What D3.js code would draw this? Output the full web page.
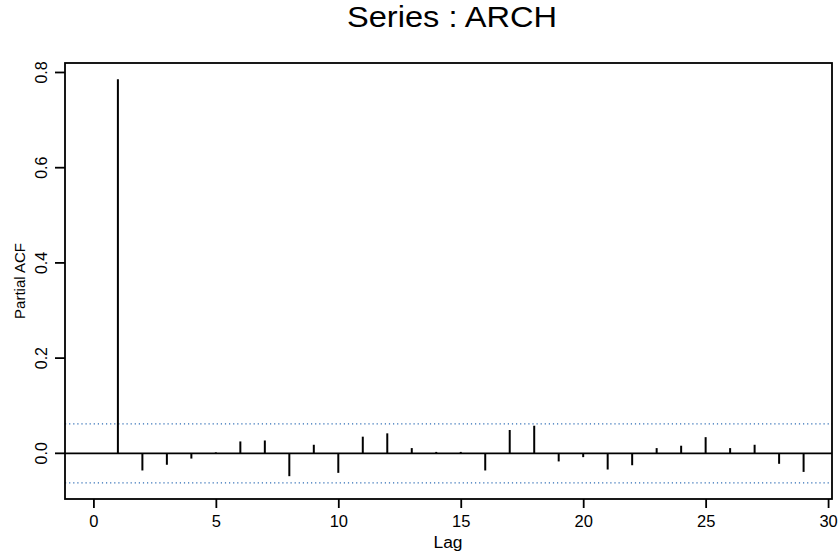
<!DOCTYPE html>
<html lang="en">
<head>
    <meta charset="UTF-8">
    <title>Series : ARCH</title>
    <style>
        body { margin: 0; background: #fff; }
        text { font-family: "Liberation Sans", Arial, sans-serif; fill: #000; }
    </style>
</head>
<body>
<script src="https://cdn.jsdelivr.net/npm/d3@7"></script>
<script>
    // partial autocorrelations, lags 1..29
    var lags = [1,2,3,4,5,6,7,8,9,10,11,12,13,14,15,16,17,18,19,20,21,22,23,24,25,26,27,28,29];
    var pacfValues = [0.786, -0.036, -0.024, -0.011, 0.002, 0.025, 0.027, -0.048, 0.018, -0.041,
        0.035, 0.042, 0.011, 0.003, 0.003, -0.036, 0.049, 0.058, -0.017, -0.008,
        -0.034, -0.025, 0.011, 0.016, 0.034, 0.011, 0.018, -0.022, -0.039];
    var ci = 0.062;   // +/- confidence band
    var xTicks = [0, 5, 10, 15, 20, 25, 30];
    var yTicks = [0.0, 0.2, 0.4, 0.6, 0.8];

    var width = 840,
        height = 558;
    // plot box (note: "top" is a reserved window property, so use a prefix)
    var boxL = 65, boxR = 832, boxT = 63, boxB = 499;

    var svg = d3.select("body")
        .append("svg")
        .attr("width", width)
        .attr("height", height);

    // R style limits: data range widened by 4% on each side
    var xmin = 0, xmax = d3.max(lags);
    var ymin = Math.min(d3.min(pacfValues), -ci), ymax = Math.max(d3.max(pacfValues), ci);
    var xpad = (xmax - xmin) * 0.04, ypad = (ymax - ymin) * 0.04;

    var x = d3.scaleLinear().domain([xmin - xpad, xmax + xpad]).range([boxL, boxR]);
    var y = d3.scaleLinear().domain([ymin - ypad, ymax + ypad]).range([boxB, boxT]);

    // confidence band
    svg.selectAll("line.ci").data([ci, -ci])
        .enter().append("line")
        .attr("class", "ci")
        .attr("x1", boxL).attr("x2", boxR)
        .attr("y1", function(d){ return y(d); }).attr("y2", function(d){ return y(d); })
        .attr("stroke", "#2f6db5").attr("stroke-width", 1.2)
        .attr("stroke-dasharray", "1.2,2.9");

    // zero line
    svg.append("line")
        .attr("x1", boxL).attr("x2", boxR)
        .attr("y1", y(0)).attr("y2", y(0))
        .attr("stroke", "#000").attr("stroke-width", 1.8);

    // spikes
    svg.selectAll("line.spike").data(lags)
        .enter().append("line")
        .attr("class", "spike")
        .attr("x1", function(d){ return x(d); }).attr("x2", function(d){ return x(d); })
        .attr("y1", y(0))
        .attr("y2", function(d, i){ return y(pacfValues[i]); })
        .attr("stroke", "#000").attr("stroke-width", 2);

    // axes
    var xAxis = svg.append("g")
        .attr("transform", "translate(0," + boxB + ")")
        .call(d3.axisBottom(x).tickValues(xTicks).tickSize(9).tickPadding(7).tickFormat(d3.format("d")));
    xAxis.select(".domain").remove();
    xAxis.selectAll("line").attr("stroke", "#000").attr("stroke-width", 1.8);
    xAxis.selectAll("text").style("font-size", "16.5px").style("font-family", "Liberation Sans, Arial, sans-serif");

    var yAxis = svg.append("g")
        .attr("transform", "translate(" + boxL + ",0)")
        .call(d3.axisLeft(y).tickValues(yTicks).tickSize(10).tickFormat(d3.format(".1f")));
    yAxis.select(".domain").remove();
    yAxis.selectAll(".tick").attr("transform", null);
    yAxis.selectAll(".tick line")
        .attr("y1", function(d){ return y(d); }).attr("y2", function(d){ return y(d); })
        .attr("stroke", "#000").attr("stroke-width", 1.8);
    yAxis.selectAll(".tick text")
        .attr("x", null).attr("y", null).attr("dy", null)
        .attr("text-anchor", "middle")
        .attr("transform", function(d){ return "translate(-18.5," + y(d) + ") rotate(-90)"; })
        .style("font-size", "16px").style("font-family", "Liberation Sans, Arial, sans-serif");

    // frame
    svg.append("rect")
        .attr("x", boxL).attr("y", boxT)
        .attr("width", boxR - boxL).attr("height", boxB - boxT)
        .attr("fill", "none").attr("stroke", "#000").attr("stroke-width", 1.8);

    // titles
    svg.append("text")
        .attr("x", 452).attr("y", 27)
        .attr("text-anchor", "middle")
        .attr("textLength", 210).attr("lengthAdjust", "spacingAndGlyphs")
        .style("font-size", "29px")
        .text("Series : ARCH");

    svg.append("text")
        .attr("x", 448).attr("y", 548)
        .attr("text-anchor", "middle")
        .attr("textLength", 29).attr("lengthAdjust", "spacingAndGlyphs")
        .style("font-size", "16px")
        .text("Lag");

    svg.append("text")
        .attr("transform", "translate(25," + ((boxT + boxB) / 2) + ") rotate(-90)")
        .attr("text-anchor", "middle")
        .style("font-size", "15px")
        .text("Partial ACF");
</script>
</body>
</html>
